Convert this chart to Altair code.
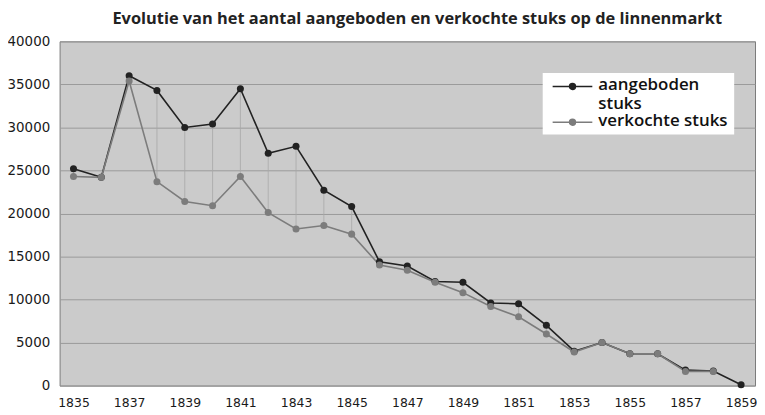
import altair as alt
import pandas as pd

years = [1835, 1836, 1837, 1838, 1839, 1840, 1841, 1842, 1843, 1844, 1845, 1846,
         1847, 1848, 1849, 1850, 1851, 1852, 1853, 1854, 1855, 1856, 1857, 1858, 1859]
aangeboden = [25200, 24200, 36000, 34300, 30000, 30400, 34500, 27000, 27800, 22700,
              20800, 14400, 13900, 12100, 12000, 9600, 9500, 7000, 4000, 5000,
              3700, 3700, 1800, 1700, 100]
verkochte = [24300, 24200, 35400, 23700, 21400, 20900, 24300, 20100, 18200, 18600,
             17600, 14000, 13400, 12000, 10800, 9200, 8000, 6000, 3900, 5000,
             3700, 3700, 1650, 1650, None]
series_names = ["aangeboden stuks", "verkochte stuks"]
series_colors = ["#222222", "#7c7c7c"]
x_labels = [1835, 1837, 1839, 1841, 1843, 1845, 1847, 1849, 1851, 1853, 1855, 1857, 1859]
y_ticks = [0, 5000, 10000, 15000, 20000, 25000, 30000, 35000, 40000]

wide = pd.DataFrame({"jaar": years, "a": aangeboden, "v": verkochte})
rows = []
for y, a, v in zip(years, aangeboden, verkochte):
    rows.append({"jaar": y, "reeks": series_names[0], "stuks": a})
    if v is not None:
        rows.append({"jaar": y, "reeks": series_names[1], "stuks": v})
long = pd.DataFrame(rows)

FONT = "Open Sans"
AXFONT = "DejaVu Sans"
xscale = alt.Scale(type="point", padding=0.5, domain=years)
yscale = alt.Scale(domain=[0, 40000])

xaxis = alt.Axis(values=x_labels, labelAngle=0, ticks=False, domain=False, grid=False,
                 labelPadding=11, labelFontSize=12.5, labelFont=AXFONT,
                 labelColor="#1a1a1a", title=None)
yaxis = alt.Axis(values=y_ticks, format="d", ticks=False, domain=False, grid=True,
                 gridColor="#9a9a9a", gridWidth=1, labelPadding=10, labelFontSize=13.5,
                 labelFont=AXFONT, labelColor="#1a1a1a", title=None)

sy = -0.35
sym = (f"M-2,{sy}L2,{sy}"
       f"M-0.3,{sy}a0.3,0.3 0 1,0 0.6,0a0.3,0.3 0 1,0 -0.6,0"
       f"M-0.15,{sy}a0.15,0.15 0 1,0 0.3,0a0.15,0.15 0 1,0 -0.3,0")

rules = alt.Chart(wide).mark_rule(color="#a8a8a8", strokeWidth=0.8).encode(
    x=alt.X("jaar:O", scale=xscale, axis=xaxis),
    y=alt.Y("a:Q", scale=yscale, axis=yaxis),
    y2="v:Q",
)

lines = alt.Chart(long).mark_line(
    strokeWidth=1.6,
    point=alt.OverlayMarkDef(filled=True, size=50, opacity=1),
).encode(
    x=alt.X("jaar:O", scale=xscale, axis=xaxis),
    y=alt.Y("stuks:Q", scale=yscale, axis=yaxis),
    color=alt.Color(
        "reeks:N",
        scale=alt.Scale(domain=series_names, range=series_colors),
        legend=alt.Legend(
            title=None, orient="none", legendX=487, legendY=32,
            fillColor="white", padding=6, symbolType=sym, symbolSize=400,
            symbolOffset=13,
            symbolStrokeWidth=1.5, labelFont=FONT, labelFontSize=17,
            labelFontWeight=600, labelColor="#111", labelBaseline="alphabetic",
            labelExpr="datum.label == 'aangeboden stuks' ? ['aangeboden', 'stuks'] : datum.label",
            labelLimit=300, rowPadding=0, labelOffset=15,
        ),
    ),
)

chart = alt.layer(rules, lines).properties(
    width=701, height=347,
    autosize=alt.AutoSizeParams(type="none"),
    padding={"left": 52, "top": 32, "right": 2, "bottom": 26},
    title=alt.TitleParams(
        "Evolutie van het aantal aangeboden en verkochte stuks op de linnenmarkt",
        font=FONT, fontSize=16.5, fontWeight="bold", color="#222", offset=7,
        anchor="middle", dx=10,
    ),
).configure_view(fill="#cbcbcb", stroke="#7a7a7a", strokeWidth=1)

chart.save("out.html", embed_options={"renderer": "svg", "actions": False})
